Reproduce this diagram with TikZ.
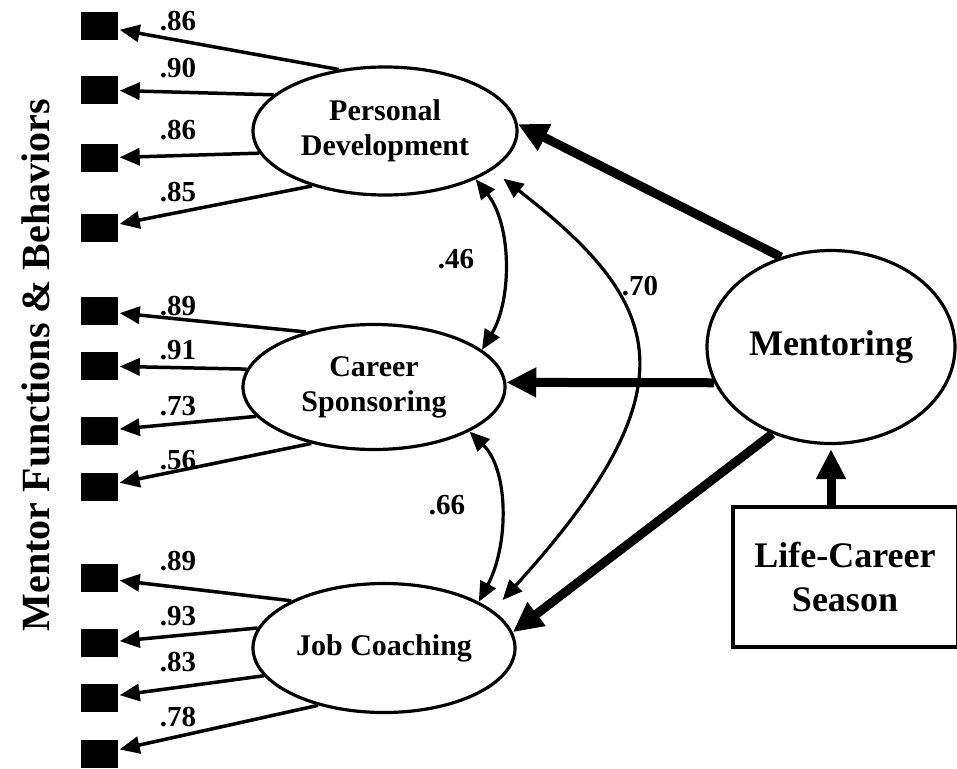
\documentclass[tikz,border=0pt]{standalone}
\usepackage{fontspec}
\setmainfont{Liberation Serif}
\usetikzlibrary{shapes.geometric,arrows.meta}
\begin{document}
\begin{tikzpicture}[x=1pt,y=-1pt]
            \tikzset{
                latent/.style={draw, ellipse, line width=3.2pt, align=center, inner sep=0pt,
                    font=\bfseries\fontsize{30}{35}\selectfont},
                item/.style={fill=black, rectangle, inner sep=0pt, minimum width=37pt, minimum height=28pt},
                load/.style={-{Triangle[length=20pt,width=17pt]}, line width=3.5pt},
                cause/.style={-{Triangle[length=30pt,width=28pt]}, line width=9pt},
                corr/.style={{Triangle[length=20pt,width=17pt]}-{Triangle[length=20pt,width=17pt]}, line width=3.2pt},
                coef/.style={font=\bfseries\fontsize{29}{29}\selectfont, inner sep=0pt}
            }
            \useasboundingbox (0,0) rectangle (957,768);
            \draw node[rotate=90, font=\bfseries\fontsize{40}{40}\selectfont] (mfb) at (36,365) {Mentor Functions \& Behaviors};
            \draw node[latent, minimum width=264pt, minimum height=128pt] (pd) at (385,131) {Personal\\Development};
            \draw node[latent, minimum width=262pt, minimum height=125pt] (cs) at (374,387) {Career\\Sponsoring};
            \draw node[latent, minimum width=262pt, minimum height=129pt] (jc) at (384,648) {Job Coaching};
            \draw node[latent, minimum width=248pt, minimum height=193pt, font=\bfseries\fontsize{36}{36}\selectfont] (men) at (831,347) {Mentoring};
            \draw node[draw, rectangle, line width=4pt, minimum width=225pt, minimum height=140pt, align=center,
                font=\bfseries\fontsize{36}{44}\selectfont] (lcs) at (845,577) {Life-Career\\Season};
            % indicators
            \foreach \n/\y in {%
            p1/26, p2/90, p3/158, p4/228, c1/311, c2/366, c3/431, c4/487, j1/578, j2/643, j3/698, j4/754%
            }{
                \node[item] (\n) at (99,\y) {};
            }
            \foreach \f/\a/\t/\v/\y in {%
            pd/127/p1/.86/21, pd/162/p2/.90/68, pd/190/p3/.86/130, pd/217/p4/.85/192,
            cs/141/c1/.89/306, cs/172/c2/.91/350, cs/194/c3/.73/406, cs/222/c4/.56/460,
            jc/153/j1/.89/561, jc/171/j2/.93/616, jc/193/j3/.83/662, jc/221/j4/.78/717%
            }{
                \draw[load, shorten >=2pt] (\f.\a) -- (\t);
                \node[coef] at (178,\y) {\v};
            }
            % correlations
            \draw[corr] (pd.-28) .. controls (512,225) and (512,300) .. (cs.19);
            \draw[corr] (cs.-25) .. controls (509,470) and (509,545) .. (jc.26);
            \draw[corr, shorten <=14pt, shorten >=14pt] (pd.-20) .. controls (664,303) and (697,386) .. (jc.19);
            \node[coef] (r1) at (456,259) {.46};
            \node[coef] (r2) at (447,505) {.66};
            \node[coef] (r3) at (640,286) {.70};
            % paths from mentoring
            \draw[cause] (men.119) -- (pd.3);
            \draw[cause] (men.197) -- (cs.2);
            \draw[cause] (men.236) -- (jc.7);
            \draw[cause, shorten >=4pt] (men.south |- lcs.north) -- (men.south);
        \end{tikzpicture}
\end{document}
